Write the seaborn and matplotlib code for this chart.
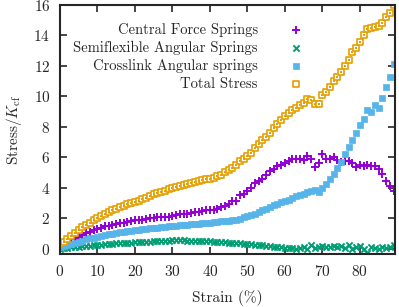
import numpy as np
import pandas as pd
import seaborn as sns
import matplotlib
matplotlib.use('Agg')
import matplotlib.pyplot as plt

strain = list(range(0, 90))

central = [0.0, 0.15, 0.3, 0.45, 0.6, 0.75, 0.9, 1.0, 1.1, 1.2,
           1.3, 1.35, 1.45, 1.5, 1.55, 1.6, 1.65, 1.7, 1.75, 1.8,
           1.85, 1.88, 1.9, 1.95, 1.98, 2.0, 2.05, 2.07, 2.1, 2.1,
           2.15, 2.2, 2.25, 2.25, 2.3, 2.35, 2.4, 2.4, 2.45, 2.5,
           2.5, 2.55, 2.6, 2.75, 2.8, 2.9, 3.15, 3.1, 3.5, 3.6,
           3.8, 3.95, 4.3, 4.45, 4.55, 4.8, 5.1, 5.2, 5.4, 5.5,
           5.6, 5.75, 5.85, 5.9, 5.85, 5.8, 6.1, 5.85, 5.35, 5.6,
           6.2, 5.85, 5.9, 6.0, 5.8, 5.7, 5.75, 5.75, 5.6, 5.35,
           5.5, 5.4, 5.5, 5.4, 5.45, 5.2, 4.9, 4.45, 4.1, 3.8]

semiflex = [0.0, 0.02, 0.05, 0.08, 0.1, 0.12, 0.15, 0.17, 0.19, 0.21,
            0.23, 0.25, 0.27, 0.29, 0.31, 0.33, 0.34, 0.36, 0.37, 0.38,
            0.4, 0.41, 0.43, 0.44, 0.45, 0.47, 0.48, 0.5, 0.5, 0.52,
            0.53, 0.53, 0.54, 0.53, 0.52, 0.52, 0.5, 0.5, 0.49, 0.48,
            0.47, 0.45, 0.44, 0.42, 0.4, 0.38, 0.36, 0.35, 0.33, 0.32,
            0.3, 0.27, 0.25, 0.22, 0.2, 0.17, 0.15, 0.12, 0.1, 0.08,
            0.05, 0.02, 0.05, 0.0, 0.05, 0.1, 0.0, 0.2, 0.05, 0.1,
            0.15, 0.1, 0.12, 0.18, 0.1, 0.15, 0.05, 0.2, 0.0, 0.1,
            0.15, 0.0, -0.3, 0.1, 0.05, -0.05, 0.1, 0.05, 0.1, 0.2]

crosslink = [0.1, 0.15, 0.22, 0.3, 0.38, 0.45, 0.52, 0.6, 0.66, 0.72,
             0.78, 0.83, 0.88, 0.93, 0.98, 1.02, 1.06, 1.1, 1.14, 1.17,
             1.2, 1.23, 1.26, 1.29, 1.32, 1.35, 1.38, 1.4, 1.43, 1.45,
             1.48, 1.5, 1.52, 1.55, 1.57, 1.6, 1.62, 1.64, 1.66, 1.68,
             1.7, 1.73, 1.76, 1.78, 1.8, 1.82, 1.86, 1.9, 1.97, 2.05,
             2.12, 2.2, 2.3, 2.4, 2.5, 2.6, 2.72, 2.85, 2.95, 3.05,
             3.15, 3.2, 3.3, 3.42, 3.5, 3.6, 3.7, 3.8, 3.85, 3.7,
             3.95, 4.25, 4.55, 4.9, 5.3, 5.7, 6.2, 6.65, 7.15, 7.6,
             8.1, 8.5, 9.1, 9.0, 9.4, 9.25, 9.9, 10.6, 11.3, 12.1]

total = [0.3, 0.45, 0.65, 0.85, 1.05, 1.2, 1.4, 1.55, 1.7, 1.85,
         2.0, 2.15, 2.25, 2.4, 2.5, 2.6, 2.7, 2.8, 2.9, 3.0,
         3.05, 3.15, 3.25, 3.35, 3.45, 3.55, 3.65, 3.7, 3.8, 3.9,
         4.0, 4.05, 4.1, 4.2, 4.25, 4.3, 4.4, 4.45, 4.5, 4.55,
         4.6, 4.65, 4.75, 4.85, 5.0, 5.15, 5.3, 5.5, 5.75, 5.9,
         6.1, 6.3, 6.6, 6.9, 7.1, 7.3, 7.6, 7.9, 8.2, 8.45,
         8.7, 8.9, 9.1, 9.25, 9.4, 9.55, 9.8, 9.75, 9.5, 9.5,
         10.1, 10.3, 10.6, 11.0, 11.3, 11.6, 12.0, 12.4, 12.9, 13.2,
         13.6, 14.0, 14.4, 14.5, 14.55, 14.6, 14.8, 15.2, 15.5, 16.0]

xticks = [0, 10, 20, 30, 40, 50, 60, 70, 80]
yticks = [0, 2, 4, 6, 8, 10, 12, 14, 16]

df = pd.DataFrame({'strain': strain, 'central': central, 'semiflex': semiflex,
                   'crosslink': crosslink, 'total': total})

sns.set_style('ticks')
plt.rcParams['font.family'] = 'serif'
plt.rcParams['font.serif'] = ['cmr10', 'DejaVu Serif']
plt.rcParams['mathtext.fontset'] = 'cm'
plt.rcParams['axes.formatter.use_mathtext'] = True
plt.rcParams['font.size'] = 11

fig = plt.figure(figsize=(3.99, 3.07), dpi=100)
ax = fig.add_axes([60 / 399, (307 - 254) / 307, 335 / 399, 249 / 307])

sns.scatterplot(data=df, x='strain', y='central', marker='+', s=28, color='#9400D3',
                linewidth=1.4, label='Central Force Springs', ax=ax)
sns.scatterplot(data=df, x='strain', y='semiflex', marker='x', s=20, color='#009E73',
                linewidth=1.4, label='Semiflexible Angular Springs', ax=ax)
sns.scatterplot(data=df, x='strain', y='crosslink', marker='s', s=20, color='#56B4E9',
                edgecolor='#56B4E9', linewidth=0.5, label='Crosslink Angular springs', ax=ax)
sns.scatterplot(data=df, x='strain', y='total', marker='s', s=24, facecolor='white',
                edgecolor='#E69F00', linewidth=1.2, label='Total Stress', ax=ax)
sns.scatterplot(data=df, x='strain', y='total', marker='s', s=2, color='#E69F00',
                linewidth=0, ax=ax, legend=False)

ax.set_xlim(0, 89.4)
ax.set_ylim(-0.36, 16)
ax.set_xticks(xticks)
ax.set_yticks(yticks)
ax.tick_params(direction='in', length=5, width=1.2, top=True, right=True, pad=7,
               labelsize=11)
for sp in ax.spines.values():
    sp.set_linewidth(1.5)
    sp.set_visible(True)

ax.set_xlabel('Strain (%)', labelpad=8)
ax.set_ylabel(r'Stress/$K_{\rm cf}$', labelpad=7)

ax.legend(loc='upper right', bbox_to_anchor=(0.725, 0.928), frameon=False,
          markerfirst=False, handlelength=1.0, handletextpad=2.1, borderpad=0,
          borderaxespad=0, labelspacing=0.28, fontsize=10.5)

fig.savefig('out.png', dpi=100)
